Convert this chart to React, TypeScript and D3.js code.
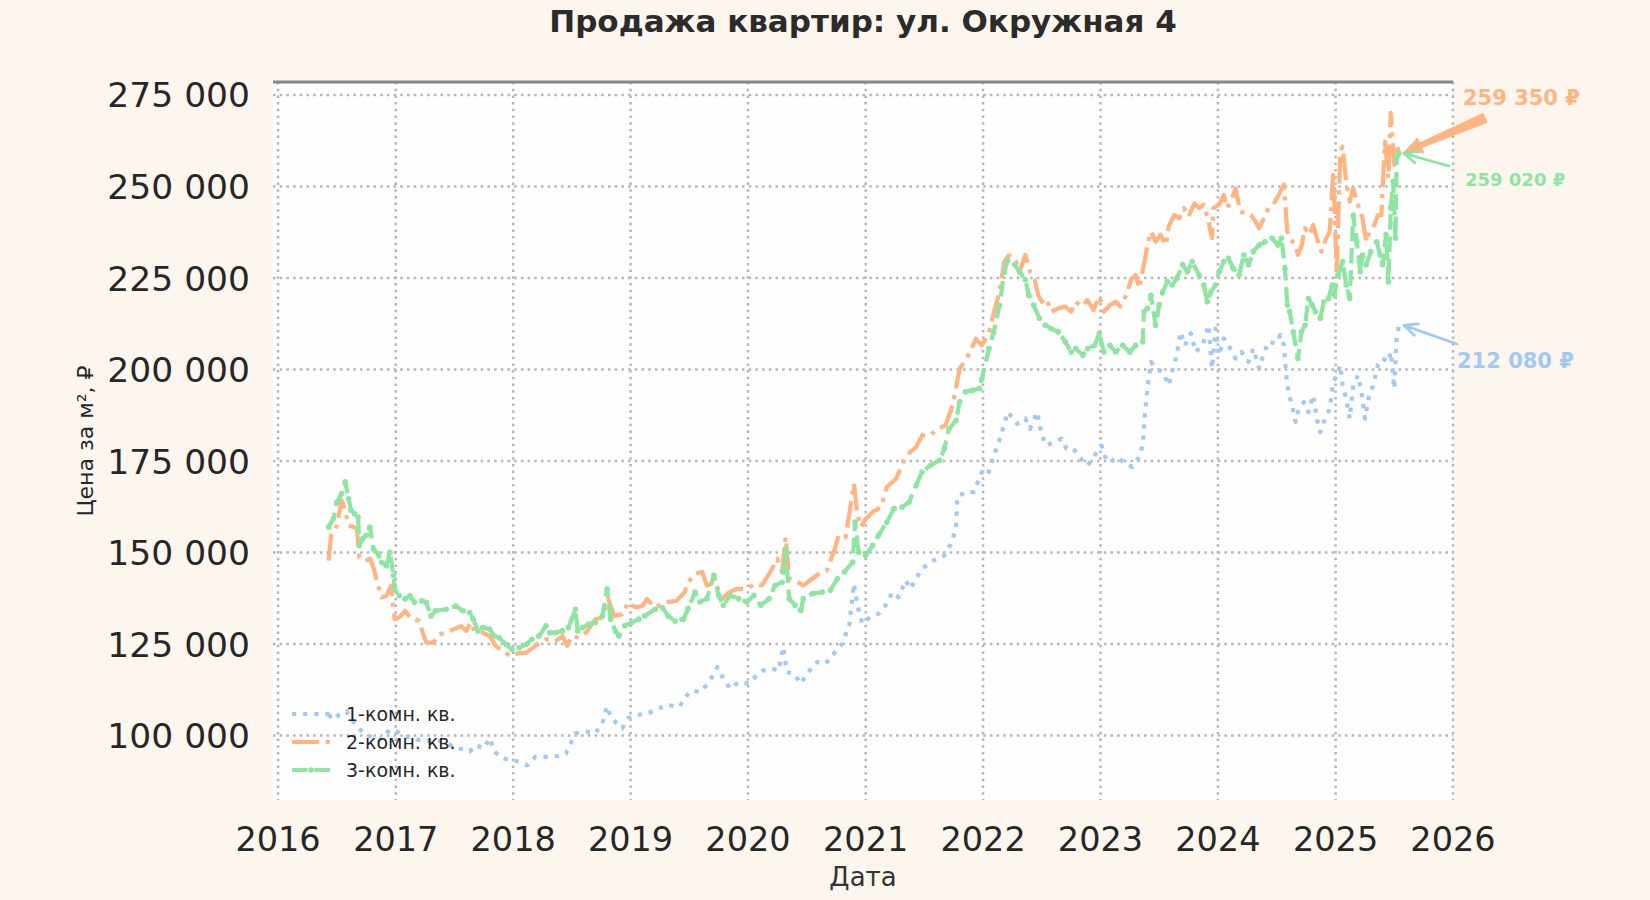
import * as d3 from "d3";

const WIDTH = 1650;
const HEIGHT = 900;

// 1-комн. кв.
const oneRoomYears = [
  2016.43, 2016.47, 2016.53, 2016.58, 2016.64, 2016.68, 2016.72, 2016.79, 2016.86, 2016.95,
  2017.01, 2017.08, 2017.15, 2017.23, 2017.32, 2017.4, 2017.46, 2017.54, 2017.63, 2017.68,
  2017.75, 2017.8, 2017.84, 2017.91, 2017.98, 2018.05, 2018.12, 2018.19, 2018.28, 2018.38,
  2018.45, 2018.49, 2018.53, 2018.62, 2018.7, 2018.76, 2018.8, 2018.83, 2018.88, 2018.93,
  2018.98, 2019.07, 2019.15, 2019.22, 2019.31, 2019.38, 2019.42, 2019.46, 2019.52, 2019.59,
  2019.66, 2019.74, 2019.79, 2019.85, 2019.92, 2020.01, 2020.06, 2020.13, 2020.2, 2020.26,
  2020.3, 2020.33, 2020.39, 2020.45, 2020.5, 2020.59, 2020.66, 2020.73, 2020.8, 2020.86,
  2020.9, 2020.93, 2020.97, 2021.04, 2021.11, 2021.17, 2021.23, 2021.28, 2021.34, 2021.38,
  2021.43, 2021.48, 2021.58, 2021.67, 2021.72, 2021.77, 2021.78, 2021.85, 2021.92, 2021.99,
  2022.04, 2022.08, 2022.12, 2022.16, 2022.21, 2022.29, 2022.36, 2022.4, 2022.46, 2022.5,
  2022.54, 2022.6, 2022.67, 2022.71, 2022.77, 2022.82, 2022.89, 2022.96, 2023.01, 2023.05,
  2023.09, 2023.13, 2023.2, 2023.27, 2023.32, 2023.36, 2023.38, 2023.4, 2023.43, 2023.47,
  2023.53, 2023.58, 2023.61, 2023.65, 2023.68, 2023.72, 2023.77, 2023.81, 2023.87, 2023.92,
  2023.95, 2023.98, 2024.01, 2024.05, 2024.09, 2024.15, 2024.2, 2024.26, 2024.3, 2024.35,
  2024.39, 2024.43, 2024.49, 2024.53, 2024.56, 2024.58, 2024.6, 2024.63, 2024.66, 2024.68,
  2024.73, 2024.77, 2024.81, 2024.84, 2024.87, 2024.91, 2024.95, 2024.98, 2025.01, 2025.04,
  2025.06, 2025.09, 2025.12, 2025.15, 2025.19, 2025.22, 2025.25, 2025.28, 2025.32, 2025.36,
  2025.4, 2025.45, 2025.47, 2025.5, 2025.52, 2025.54,
];
const oneRoomPrices = [
  105700, 104300, 106100, 106600, 103800, 102500, 100600, 99700, 98800, 101600,
  101100, 99700, 99300, 98400, 98800, 98400, 97400, 96500, 95600, 97400,
  96500, 99300, 95600, 93800, 93300, 92900, 91900, 94200, 94200, 94400,
  95100, 97900, 100600, 101100, 100600, 103400, 108000, 105200, 103400, 102000,
  104800, 105700, 106100, 107100, 108400, 108000, 108000, 110300, 112300, 111900,
  114200, 118700, 115500, 112800, 114600, 114200, 116000, 117800, 118300, 117800,
  124200, 117400, 116900, 114200, 116900, 120100, 119600, 122400, 125100, 130100,
  141500, 135600, 130600, 132400, 133300, 135600, 139200, 137800, 142400, 140100,
  142900, 145600, 147900, 149200, 152000, 156500, 165200, 166500, 166500, 172000,
  171100, 175600, 178800, 182900, 188400, 185200, 186600, 183800, 188400, 182000,
  179200, 180200, 181100, 178400, 178400, 176000, 173800, 177000, 179200, 175200,
  174700, 176100, 174700, 173400, 175600, 179300, 188400, 194800, 202100, 200300,
  199400, 195700, 199400, 203900, 210300, 206600, 209900, 204800, 206600, 212100,
  200300, 211200, 203900, 208500, 206600, 203000, 204800, 202100, 205700, 200300,
  204400, 207600, 207100, 209400, 206600, 198400, 193900, 190200, 185700, 188400,
  191100, 188400, 193000, 186600, 182900, 186600, 189300, 196600, 198400, 201200,
  195700, 192100, 186600, 195700, 198400, 193900, 186600, 192100, 195700, 201200,
  203000, 202100, 204800, 194800, 208500, 212080,
];

// 2-комн. кв.
const twoRoomYears = [
  2016.43, 2016.45, 2016.5, 2016.54, 2016.57, 2016.6, 2016.64, 2016.67, 2016.69, 2016.74,
  2016.78, 2016.81, 2016.85, 2016.88, 2016.92, 2016.96, 2016.99, 2017.03, 2017.08, 2017.12,
  2017.2, 2017.23, 2017.26, 2017.32, 2017.37, 2017.43, 2017.49, 2017.56, 2017.6, 2017.64,
  2017.67, 2017.74, 2017.8, 2017.85, 2017.91, 2017.98, 2018.05, 2018.11, 2018.19, 2018.28,
  2018.36, 2018.42, 2018.46, 2018.5, 2018.56, 2018.62, 2018.7, 2018.76, 2018.81, 2018.86,
  2018.93, 2018.98, 2019.04, 2019.1, 2019.14, 2019.21, 2019.29, 2019.39, 2019.46, 2019.49,
  2019.55, 2019.61, 2019.65, 2019.72, 2019.78, 2019.84, 2019.91, 2019.99, 2020.06, 2020.12,
  2020.19, 2020.25, 2020.29, 2020.32, 2020.35, 2020.4, 2020.47, 2020.55, 2020.62, 2020.67,
  2020.73, 2020.77, 2020.83, 2020.9, 2020.93, 2020.96, 2021.0, 2021.06, 2021.13, 2021.18,
  2021.26, 2021.33, 2021.38, 2021.43, 2021.48, 2021.55, 2021.61, 2021.68, 2021.74, 2021.8,
  2021.82, 2021.88, 2021.94, 2021.99, 2022.05, 2022.09, 2022.14, 2022.18, 2022.22, 2022.27,
  2022.31, 2022.36, 2022.4, 2022.44, 2022.47, 2022.5, 2022.54, 2022.58, 2022.64, 2022.7,
  2022.75, 2022.79, 2022.84, 2022.89, 2022.94, 2022.99, 2023.03, 2023.08, 2023.13, 2023.17,
  2023.22, 2023.26, 2023.3, 2023.33, 2023.37, 2023.4, 2023.43, 2023.47, 2023.51, 2023.56,
  2023.58, 2023.63, 2023.67, 2023.71, 2023.75, 2023.8, 2023.84, 2023.88, 2023.92, 2023.95,
  2023.96, 2024.01, 2024.05, 2024.08, 2024.12, 2024.15, 2024.19, 2024.23, 2024.28, 2024.32,
  2024.35, 2024.39, 2024.43, 2024.47, 2024.51, 2024.56, 2024.59, 2024.61, 2024.66, 2024.68,
  2024.71, 2024.74, 2024.78, 2024.81, 2024.85, 2024.88, 2024.92, 2024.95, 2024.98, 2025.01,
  2025.04, 2025.06, 2025.09, 2025.12, 2025.15, 2025.19, 2025.23, 2025.26, 2025.29, 2025.33,
  2025.36, 2025.39, 2025.42, 2025.45, 2025.47, 2025.5, 2025.52, 2025.54,
];
const twoRoomPrices = [
  147800, 154700, 157400, 164300, 161500, 157400, 157000, 156500, 148700, 147800,
  148300, 146000, 140900, 137700, 138200, 140900, 131800, 132300, 134100, 132300,
  131300, 128100, 125400, 125400, 127700, 128100, 129000, 129900, 128600, 130900,
  128600, 128100, 127200, 124500, 123100, 121700, 122600, 122600, 124500, 126300,
  125800, 127200, 124500, 127200, 126700, 128100, 131800, 132300, 137300, 132700,
  133100, 136400, 135000, 135400, 137300, 135000, 136400, 136800, 139100, 141900,
  144200, 144700, 141000, 141900, 137400, 139200, 140100, 140100, 141500, 141000,
  144700, 148300, 144700, 154200, 142900, 142400, 141000, 142900, 144700, 145100,
  150200, 154700, 154200, 168800, 160200, 157000, 159200, 161100, 162400, 167900,
  170200, 175600, 177500, 178800, 182000, 182000, 183800, 184700, 190200, 200200,
  201100, 204300, 208400, 206600, 210200, 215300, 221200, 229400, 231200, 230400,
  226700, 231300, 226700, 224500, 220300, 218500, 219400, 215800, 216700, 217200,
  215800, 218500, 217200, 219000, 216200, 219900, 215800, 217600, 218500, 217200,
  220300, 224500, 225800, 222200, 228600, 234000, 237700, 234900, 236800, 234000,
  239100, 242200, 241300, 244100, 241800, 245400, 244100, 245000, 240400, 235900,
  244100, 245000, 247700, 244100, 246800, 249500, 243200, 242700, 242200, 240400,
  238600, 241300, 244100, 245000, 247300, 250500, 237700, 235900, 234000, 231300,
  233600, 238600, 236800, 239500, 234900, 232200, 235900, 237700, 254100, 226000,
  259600, 260900, 251400, 245900, 249500, 245000, 241300, 234900, 237700, 239500,
  242200, 242200, 262300, 252300, 270100, 255900, 261400, 259350,
];

// 3-комн. кв.
const threeRoomYears = [
  2016.43, 2016.47, 2016.5, 2016.54, 2016.57, 2016.6, 2016.62, 2016.65, 2016.68, 2016.69,
  2016.72, 2016.75, 2016.78, 2016.81, 2016.85, 2016.88, 2016.92, 2016.95, 2016.98, 2016.99,
  2017.03, 2017.08, 2017.12, 2017.16, 2017.22, 2017.26, 2017.3, 2017.34, 2017.43, 2017.51,
  2017.57, 2017.63, 2017.66, 2017.7, 2017.74, 2017.8, 2017.84, 2017.88, 2017.94, 2017.99,
  2018.05, 2018.11, 2018.16, 2018.22, 2018.28, 2018.31, 2018.36, 2018.42, 2018.47, 2018.53,
  2018.55, 2018.59, 2018.64, 2018.7, 2018.76, 2018.8, 2018.83, 2018.87, 2018.9, 2018.95,
  2019.01, 2019.07, 2019.12, 2019.21, 2019.27, 2019.32, 2019.38, 2019.45, 2019.49, 2019.55,
  2019.59, 2019.65, 2019.71, 2019.75, 2019.79, 2019.85, 2019.92, 2019.99, 2020.05, 2020.11,
  2020.18, 2020.23, 2020.29, 2020.32, 2020.35, 2020.4, 2020.45, 2020.47, 2020.55, 2020.63,
  2020.7, 2020.76, 2020.82, 2020.89, 2020.91, 2020.94, 2021.0, 2021.06, 2021.11, 2021.18,
  2021.24, 2021.31, 2021.37, 2021.43, 2021.48, 2021.55, 2021.63, 2021.67, 2021.71, 2021.77,
  2021.8, 2021.85, 2021.91, 2021.97, 2021.99, 2022.05, 2022.09, 2022.14, 2022.18, 2022.21,
  2022.27, 2022.31, 2022.36, 2022.39, 2022.43, 2022.48, 2022.53, 2022.58, 2022.64, 2022.7,
  2022.75, 2022.79, 2022.85, 2022.89, 2022.95, 2022.99, 2023.03, 2023.08, 2023.13, 2023.19,
  2023.25, 2023.3, 2023.36, 2023.37, 2023.4, 2023.43, 2023.47, 2023.5, 2023.53, 2023.57,
  2023.61, 2023.65, 2023.7, 2023.74, 2023.78, 2023.84, 2023.88, 2023.91, 2023.94, 2023.98,
  2024.01, 2024.05, 2024.09, 2024.13, 2024.18, 2024.22, 2024.26, 2024.3, 2024.35, 2024.4,
  2024.46, 2024.51, 2024.54, 2024.57, 2024.59, 2024.61, 2024.64, 2024.68, 2024.71, 2024.74,
  2024.77, 2024.8, 2024.83, 2024.87, 2024.9, 2024.94, 2024.97, 2024.99, 2025.02, 2025.06,
  2025.09, 2025.12, 2025.15, 2025.18, 2025.21, 2025.23, 2025.26, 2025.3, 2025.35, 2025.38,
  2025.4, 2025.43, 2025.45, 2025.47, 2025.49, 2025.51, 2025.52, 2025.54,
];
const threeRoomPrices = [
  157000, 159300, 163800, 166100, 169300, 164700, 161500, 160600, 159700, 151900,
  153800, 154700, 157000, 151000, 149600, 147300, 146400, 150100, 143700, 140000,
  138200, 137300, 138200, 136400, 136800, 136400, 132700, 134100, 134500, 135400,
  134100, 133600, 131800, 128600, 129500, 129100, 127200, 126700, 124900, 123500,
  124000, 124900, 126300, 127200, 130000, 128100, 128100, 128600, 129500, 134500,
  128600, 129500, 130400, 130900, 132700, 140000, 131800, 128600, 127200, 130000,
  130900, 131800, 132700, 134500, 135000, 132700, 131300, 131800, 134700, 139200,
  136500, 137400, 143800, 138300, 135600, 138300, 137400, 136500, 138300, 135600,
  137400, 141000, 141900, 151000, 137400, 135600, 134200, 137400, 138800, 139200,
  139700, 142900, 144700, 147400, 158300, 150100, 149200, 152000, 154700, 158300,
  162000, 162400, 163800, 168400, 172000, 173800, 175200, 178400, 183800, 186100,
  191100, 193900, 194300, 194800, 197500, 205700, 210200, 217500, 226600, 229800,
  228600, 226700, 224500, 220300, 217600, 214000, 212100, 211200, 210300, 207600,
  204800, 205700, 203900, 205700, 206600, 209900, 204800, 206600, 204800, 206600,
  204800, 206600, 207600, 215800, 216700, 220300, 212100, 217600, 221200, 224000,
  223100, 224900, 228600, 226700, 229500, 225800, 223100, 218500, 221200, 223100,
  226700, 229500, 230400, 227600, 225800, 231300, 228600, 232200, 234000, 234900,
  235900, 234000, 235900, 227600, 217600, 215800, 210300, 203000, 210300, 212100,
  219400, 217600, 215800, 214000, 218500, 219400, 223100, 220300, 225800, 229500,
  223100, 219400, 242200, 234900, 226700, 231300, 228600, 232200, 234900, 231300,
  228600, 236800, 224000, 244100, 251400, 235900, 257800, 259020,
];

const yTickValues = [100000, 125000, 150000, 175000, 200000, 225000, 250000, 275000];
const xTickYears = [2016, 2017, 2018, 2019, 2020, 2021, 2022, 2023, 2024, 2025, 2026];

const TITLE = "Продажа квартир: ул. Окружная 4";
const X_LABEL = "Дата";
const Y_LABEL = "Цена за м², ₽";

const plot = { left: 273, right: 1453, top: 82, bottom: 800 };
const FONT = "DejaVu Sans, Verdana, sans-serif";
const LW = 4.2;

// decimal year -> Date
function toDate(v: number) {
  const yr = Math.floor(v);
  const a = new Date(yr, 0, 1).getTime();
  const b = new Date(yr + 1, 0, 1).getTime();
  return new Date(a + (v - yr) * (b - a));
}

const x = d3
  .scaleTime()
  .domain([toDate(2015.957), toDate(2026.0)])
  .range([plot.left, plot.right]);

const y = d3.scaleLinear().domain([82400, 278550]).range([plot.bottom, plot.top]);

const ruFormat = d3.formatLocale({
  decimal: ",",
  thousands: " ",
  grouping: [3],
  currency: ["", " ₽"],
}).format(",d");

type Pt = { date: Date; value: number };

const series = [
  {
    name: "1-комн. кв.",
    color: "#a1c9f4",
    dash: `${LW} ${LW * 1.65}`,
    markers: false,
    data: oneRoomYears.map((t, i) => ({ date: toDate(t), value: oneRoomPrices[i] })),
  },
  {
    name: "2-комн. кв.",
    color: "#ffb482",
    dash: `${LW * 6.4} ${LW * 1.6} ${LW} ${LW * 1.6}`,
    markers: false,
    data: twoRoomYears.map((t, i) => ({ date: toDate(t), value: twoRoomPrices[i] })),
  },
  {
    name: "3-комн. кв.",
    color: "#8de5a1",
    dash: `${LW * 3.7} ${LW * 1.6}`,
    markers: true,
    data: threeRoomYears.map((t, i) => ({ date: toDate(t), value: threeRoomPrices[i] })),
  },
];

const line = d3
  .line<Pt>()
  .x((d) => x(d.date))
  .y((d) => y(d.value));

// annotation placement (text position in px)
const notes = [
  { s: 1, text: "259 350 ₽", tx: 1463, ty: 105, size: 21, tail: [1485, 118], style: "fancy" },
  { s: 2, text: "259 020 ₽", tx: 1465, ty: 186, size: 18, tail: [1449, 166], style: "simple" },
  { s: 0, text: "212 080 ₽", tx: 1457, ty: 368, size: 21, tail: [1457, 344], style: "simple" },
];

function Arrow({ tail, tip, color, style }: { tail: number[]; tip: number[]; color: string; style: string }) {
  const dx = tip[0] - tail[0];
  const dy = tip[1] - tail[1];
  const len = Math.hypot(dx, dy);
  const ux = dx / len;
  const uy = dy / len;
  const nx = -uy;
  const ny = ux;
  if (style === "fancy") {
    const hl = 18;
    const bx = tip[0] - ux * hl;
    const by = tip[1] - uy * hl;
    const pts = [
      [tail[0] + nx * 5, tail[1] + ny * 5],
      [bx + nx * 2.5, by + ny * 2.5],
      [bx + nx * 8, by + ny * 8],
      [tip[0], tip[1]],
      [bx - nx * 8, by - ny * 8],
      [bx - nx * 2.5, by - ny * 2.5],
      [tail[0] - nx * 5, tail[1] - ny * 5],
    ];
    return <polygon points={pts.map((p) => p.join(",")).join(" ")} fill={color} stroke={color} strokeWidth={1} />;
  }
  const hl = 13;
  const hw = 6;
  const bx = tip[0] - ux * hl;
  const by = tip[1] - uy * hl;
  return (
    <g stroke={color} strokeWidth={2.8} fill="none" strokeLinecap="round" strokeLinejoin="round">
      <line x1={tail[0]} y1={tail[1]} x2={tip[0]} y2={tip[1]} />
      <polyline points={`${bx + nx * hw},${by + ny * hw} ${tip[0]},${tip[1]} ${bx - nx * hw},${by - ny * hw}`} />
    </g>
  );
}

export default function App() {
  const legendRows = [714, 742, 770];
  return (
    <svg
      width={WIDTH}
      height={HEIGHT}
      style={{ position: "absolute", left: 0, top: 0, display: "block" }}
      fontFamily={FONT}
    >
      <defs>
        <clipPath id="plotClip">
          <rect x={plot.left} y={plot.top} width={plot.right - plot.left} height={plot.bottom - plot.top} />
        </clipPath>
      </defs>
      <rect width={WIDTH} height={HEIGHT} fill="#fdf6ee" />
      <rect
        x={plot.left}
        y={plot.top}
        width={plot.right - plot.left}
        height={plot.bottom - plot.top}
        fill="#fefefe"
      />

      {/* grid */}
      <g stroke="#b6b6b6" strokeWidth={2.5} strokeDasharray="2.5 4.2">
        {yTickValues.map((v) => (
          <line key={v} x1={plot.left} x2={plot.right} y1={y(v)} y2={y(v)} />
        ))}
        {xTickYears.map((yr) => (
          <line key={yr} x1={x(toDate(yr))} x2={x(toDate(yr))} y1={plot.top} y2={plot.bottom} />
        ))}
      </g>

      {/* top spine */}
      <line x1={plot.left} x2={plot.right} y1={plot.top} y2={plot.top} stroke="#888888" strokeWidth={3} />

      {/* series */}
      <g clipPath="url(#plotClip)">
        {series.map((s) => (
          <g key={s.name}>
            <path d={line(s.data) ?? ""} fill="none" stroke={s.color} strokeWidth={LW} strokeDasharray={s.dash} strokeLinejoin="round" />
            {s.markers &&
              s.data.map((d, i) => <circle key={i} cx={x(d.date)} cy={y(d.value)} r={2.8} fill={s.color} />)}
          </g>
        ))}
      </g>

      {/* y tick labels */}
      <g fontSize={34.5} fill="#262626" textAnchor="end">
        {yTickValues.map((v) => (
          <text key={v} x={250} y={y(v) + 12.5}>
            {ruFormat(v)}
          </text>
        ))}
      </g>

      {/* x tick labels */}
      <g fontSize={33.5} fill="#262626" textAnchor="middle">
        {xTickYears.map((yr) => (
          <text key={yr} x={x(toDate(yr))} y={851}>
            {yr}
          </text>
        ))}
      </g>

      {/* title and axis labels */}
      <text x={(plot.left + plot.right) / 2} y={32} textAnchor="middle" fontSize={31} fontWeight="bold" fill="#2b2b2b">
        {TITLE}
      </text>
      <text x={(plot.left + plot.right) / 2} y={886} textAnchor="middle" fontSize={26} fill="#333333">
        {X_LABEL}
      </text>
      <text transform={`translate(93,441) rotate(-90)`} textAnchor="middle" fontSize={22} fill="#262626">
        {Y_LABEL}
      </text>

      {/* legend */}
      {series.map((s, i) => (
        <g key={s.name}>
          <line x1={292} x2={330} y1={legendRows[i]} y2={legendRows[i]} stroke={s.color} strokeWidth={LW} strokeDasharray={s.dash} />
          {s.markers && <circle cx={311} cy={legendRows[i]} r={2.8} fill={s.color} />}
          <text x={346} y={legendRows[i] + 7} fontSize={19} fill="#262626">
            {s.name}
          </text>
        </g>
      ))}

      {/* annotations for the last values */}
      {notes.map((n) => {
        const s = series[n.s];
        const last = s.data[s.data.length - 1];
        const tip = [x(last.date) + 5, y(last.value)];
        return (
          <g key={n.text}>
            <Arrow tail={n.tail} tip={tip} color={s.color} style={n.style} />
            <text x={n.tx} y={n.ty} fontSize={n.size} fontWeight="bold" fill={s.color}>
              {n.text}
            </text>
          </g>
        );
      })}
    </svg>
  );
}
